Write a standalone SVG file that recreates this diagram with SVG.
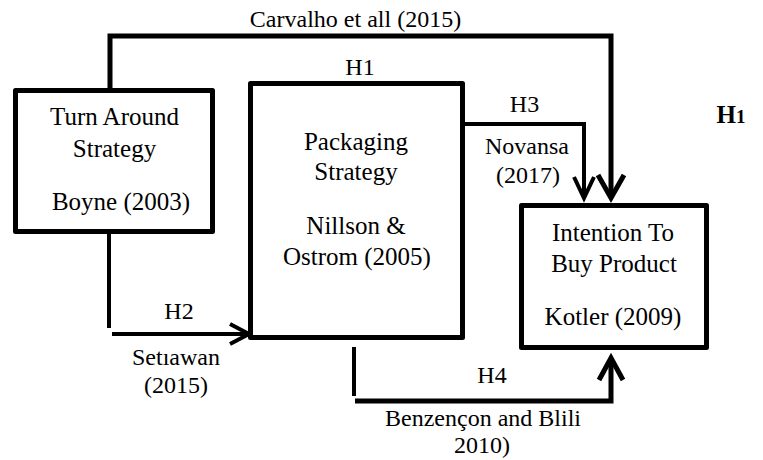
<svg xmlns="http://www.w3.org/2000/svg" width="763" height="460" viewBox="0 0 763 460">
<style>
.box{font-size:25px}
.lbl{font-size:24px}
.node{fill:#fff;stroke:#000;stroke-width:5;stroke-linejoin:round}
.c{fill:none;stroke:#000;stroke-width:4;stroke-linejoin:miter}
.ct{fill:none;stroke:#000;stroke-width:5;stroke-linejoin:miter}
</style>
<rect width="763" height="460" fill="#fff"/>
<g font-family="'Liberation Serif', 'Times New Roman', serif" text-anchor="middle" fill="#000">
<g id="connectors">
<polyline class="ct" points="110,88 110,36 611,36 611,196"/>
<polyline class="ct" points="598,175 611,198 624,175"/>
<line class="c" x1="109" y1="234" x2="109" y2="328"/>
<line class="c" x1="112" y1="334" x2="248" y2="334"/>
<polyline class="c" points="230,324 249,334 230,344"/>
<polyline class="c" points="465,124 584,124 584,196"/>
<polyline class="c" points="574,177 584,198 594,177"/>
<line class="c" x1="354" y1="347" x2="354" y2="396"/>
<polyline class="ct" points="355,401 611,401 611,360"/>
<polyline class="ct" points="599,380 611,358 623,380"/>
<text class="lbl" x="355.5" y="27">Carvalho et all (2015)</text>
<text class="lbl" x="360" y="75">H1</text>
<text class="lbl" x="179" y="319">H2</text>
<text class="lbl" x="176" y="365">Setıawan</text>
<text class="lbl" x="176" y="393">(2015)</text>
<text class="lbl" x="524.5" y="112">H3</text>
<text class="lbl" x="527" y="154">Novansa</text>
<text class="lbl" x="528" y="183">(2017)</text>
<text class="lbl" x="492" y="383">H4</text>
<text class="lbl" x="483" y="426">Benzençon and Blili</text>
<text class="lbl" x="482" y="453">2010)</text>
</g>
<g id="turnaround">
<rect class="node" x="15.5" y="90.5" width="197" height="141"/>
<text class="box" x="114.5" y="125">Turn Around</text>
<text class="box" x="114.5" y="157">Strategy</text>
<text class="box" x="121" y="210">Boyne (2003)</text>
</g>
<g id="packaging">
<rect class="node" x="250.5" y="83.5" width="212" height="254"/>
<text class="box" x="356" y="150">Packaging</text>
<text class="box" x="356" y="180">Strategy</text>
<text class="box" x="356" y="234">Nillson &amp;</text>
<text class="box" x="357" y="265">Ostrom (2005)</text>
</g>
<g id="intention">
<rect class="node" x="521.5" y="205.5" width="185" height="142"/>
<text class="box" x="613" y="241">Intention To</text>
<text class="box" x="614" y="272">Buy Product</text>
<text class="box" x="613" y="325">Kotler (2009)</text>
</g>
<g id="h1-label">
<text x="731" y="123" font-size="25" font-weight="bold">H<tspan font-size="19">1</tspan></text>
</g>
</g>
</svg>
